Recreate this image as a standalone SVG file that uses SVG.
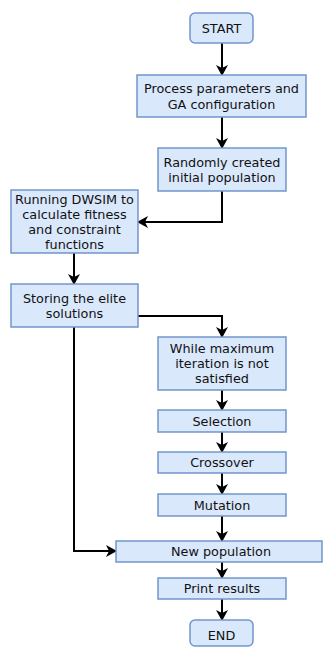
<svg xmlns="http://www.w3.org/2000/svg" width="323" height="648" viewBox="0 0 323 648">
<style>
.box{fill:#dae8fc;stroke:#7195cc;stroke-width:1.5}
.t{font-family:"DejaVu Sans",Verdana,sans-serif;font-size:12.8px;fill:#111;text-anchor:middle;dominant-baseline:central}
.c{fill:none;stroke:#000;stroke-width:2}
</style>
<defs>
<marker id="a" viewBox="0 0 11 12" refX="10" refY="6" markerWidth="11" markerHeight="12" markerUnits="userSpaceOnUse" orient="auto">
<path d="M0,0 L11,6 L0,12 L3,6 Z" fill="#000"/>
</marker>
</defs>
<g id="connectors">
<path class="c" d="M222,43 V75" marker-end="url(#a)"/>
<path class="c" d="M222,117 V148" marker-end="url(#a)"/>
<path class="c" d="M222,191 V222 H138" marker-end="url(#a)"/>
<path class="c" d="M74,253 V284" marker-end="url(#a)"/>
<path class="c" d="M138,316 H222 V337" marker-end="url(#a)"/>
<path class="c" d="M222,390 V410" marker-end="url(#a)"/>
<path class="c" d="M222,432 V452" marker-end="url(#a)"/>
<path class="c" d="M222,473 V494" marker-end="url(#a)"/>
<path class="c" d="M222,516 V541" marker-end="url(#a)"/>
<path class="c" d="M74,327 V551 H116" marker-end="url(#a)"/>
<path class="c" d="M222,562 V578" marker-end="url(#a)"/>
<path class="c" d="M222,599 V620" marker-end="url(#a)"/>
</g>
<g id="start"><rect class="box" x="190" y="13" width="63" height="30" rx="5"/><text class="t" x="221.5" y="28">START</text></g>
<g id="process"><rect class="box" x="137" y="75" width="169" height="42"/><text class="t" x="221.5" y="88">Process parameters and</text><text class="t" x="221.5" y="104">GA configuration</text></g>
<g id="random"><rect class="box" x="158" y="148" width="128" height="43"/><text class="t" x="222" y="162">Randomly created</text><text class="t" x="222" y="177">initial population</text></g>
<g id="running"><rect class="box" x="11" y="190" width="127" height="63"/><text class="t" x="74.5" y="199">Running DWSIM to</text><text class="t" x="74.5" y="214">calculate fitness</text><text class="t" x="74.5" y="229">and constraint</text><text class="t" x="74.5" y="244">functions</text></g>
<g id="storing"><rect class="box" x="11" y="284" width="127" height="43"/><text class="t" x="74.5" y="298">Storing the elite</text><text class="t" x="74.5" y="313">solutions</text></g>
<g id="while"><rect class="box" x="158" y="337" width="128" height="53"/><text class="t" x="222" y="348">While maximum</text><text class="t" x="222" y="363">iteration is not</text><text class="t" x="222" y="378">satisfied</text></g>
<g id="selection"><rect class="box" x="158" y="410" width="128" height="22"/><text class="t" x="222" y="421">Selection</text></g>
<g id="crossover"><rect class="box" x="158" y="452" width="128" height="21"/><text class="t" x="222" y="462.5">Crossover</text></g>
<g id="mutation"><rect class="box" x="158" y="494" width="128" height="22"/><text class="t" x="222" y="505">Mutation</text></g>
<g id="newpop"><rect class="box" x="116" y="541" width="206" height="21"/><text class="t" x="221" y="551.5">New population</text></g>
<g id="print"><rect class="box" x="158" y="578" width="128" height="21"/><text class="t" x="222" y="588.5">Print results</text></g>
<g id="end"><rect class="box" x="190" y="620" width="63" height="26" rx="5"/><text class="t" x="221.5" y="635">END</text></g>
</svg>
